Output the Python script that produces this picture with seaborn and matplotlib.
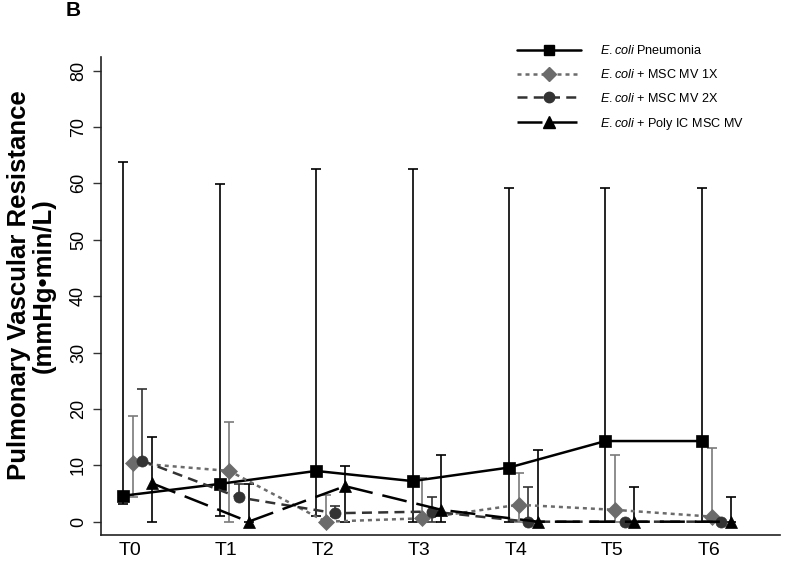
import numpy as np
import pandas as pd
import matplotlib
matplotlib.use("Agg")
import matplotlib.pyplot as plt
import seaborn as sns
from matplotlib.lines import Line2D

# ---- data ----
timepoints = ["T0", "T1", "T2", "T3", "T4", "T5", "T6"]
series_names = [
    r"$\mathit{E.coli}$ Pneumonia",
    r"$\mathit{E.coli}$ + MSC MV 1X",
    r"$\mathit{E.coli}$ + MSC MV 2X",
    r"$\mathit{E.coli}$ + Poly IC MSC MV",
]
pneumonia = [4.6, 6.7, 9.0, 7.2, 9.6, 14.3, 14.3]
pneumonia_hi = [63.7, 59.8, 62.5, 62.5, 59.2, 59.2, 59.2]
pneumonia_lo = [3.1, 1.0, 1.0, 0.0, 0.0, 0.0, 0.0]

mv1x = [10.4, 9.0, 0.0, 0.6, 3.0, 2.1, 0.9]
mv1x_hi = [18.7, 17.6, 4.7, 7.8, 8.6, 11.8, 13.0]
mv1x_lo = [4.3, 0.0, 0.0, 0.0, 0.0, 0.0, 0.0]

mv2x = [10.8, 4.3, 1.5, 1.8, 0.0, 0.0, 0.0]
mv2x_hi = [23.5, 6.6, 2.7, 4.3, 6.2, 0.0, 0.0]
mv2x_lo = [10.8, 4.3, 1.0, 0.0, 0.0, 0.0, 0.0]

polyic = [6.8, 0.0, 6.3, 2.1, 0.0, 0.0, 0.0]
polyic_hi = [15.1, 6.7, 9.9, 11.8, 12.7, 6.2, 4.3]
polyic_lo = [0.0, 0.0, 0.0, 0.0, 0.0, 0.0, 0.0]

values = [pneumonia, mv1x, mv2x, polyic]
highs = [pneumonia_hi, mv1x_hi, mv2x_hi, polyic_hi]
lows = [pneumonia_lo, mv1x_lo, mv2x_lo, polyic_lo]

# ---- styles ----
offsets = [-0.07, 0.03, 0.13, 0.23]
colors = ["#000000", "#6b6b6b", "#333333", "#000000"]
ecolors = ["#000000", "#7a7a7a", "#333333", "#000000"]
markers = ["s", "D", "o", "^"]
msizes = [8, 8, 8, 8.5]
linestyles = ["-", (0, (1.6, 1.6)), (0, (4, 2.5)), (0, (10, 4))]

sns.set_style("ticks")
plt.rcParams["font.family"] = ["Liberation Sans", "DejaVu Sans"]
plt.rcParams["mathtext.fontset"] = "custom"
plt.rcParams["mathtext.it"] = "Liberation Sans:italic"
plt.rcParams["mathtext.rm"] = "Liberation Sans"
plt.rcParams["text.color"] = "black"
plt.rcParams["axes.labelcolor"] = "black"
plt.rcParams["xtick.color"] = "black"
plt.rcParams["ytick.color"] = "black"

fig = plt.figure(figsize=(8.0, 5.61), dpi=100)
ax = fig.add_axes([101 / 800, 1 - 535 / 561, (780 - 101) / 800, (535 - 57) / 561])

xbase = np.arange(len(timepoints))
rows = []
for name, vals, off in zip(series_names, values, offsets):
    for xi, v in zip(xbase, vals):
        rows.append({"series": name, "x": xi + off, "y": v})
df = pd.DataFrame(rows)

for i, name in enumerate(series_names):
    sub = df[df["series"] == name]
    vals = np.array(values[i])
    hi = np.array(highs[i])
    lo = np.array(lows[i])
    ax.errorbar(sub["x"].values, vals, yerr=[vals - lo, hi - vals], fmt="none",
                ecolor=ecolors[i], elinewidth=1.2, capsize=3.5, capthick=1.2, zorder=2)
    sns.lineplot(data=sub, x="x", y="y", ax=ax, color=colors[i], marker=markers[i],
                 markersize=msizes[i], markeredgecolor=colors[i], markeredgewidth=0.5,
                 linestyle=linestyles[i], linewidth=1.8, legend=False, zorder=3 + i)

ax.set_xlim(-0.30, 6.74)
ax.set_ylim(-2.36, 82.4)
ax.set_xticks(xbase)
ax.set_xticklabels(timepoints, fontsize=14)
ax.set_yticks(np.arange(0, 81, 10))
ax.set_yticklabels([str(v) for v in range(0, 81, 10)], fontsize=13, rotation=90, va="center")
ax.tick_params(axis="x", length=0, pad=5)
ax.tick_params(axis="y", length=6, width=1.0, pad=4, color="#333333")
ax.set_xlabel("")
ax.set_ylabel("Pulmonary Vascular Resistance\n(mmHg\u2022min/L)", fontsize=18.5,
              fontweight="bold", linespacing=1.05)
ax.yaxis.set_label_coords(-0.066, 0.522)
for s in ["top", "right"]:
    ax.spines[s].set_visible(False)
for s in ["left", "bottom"]:
    ax.spines[s].set_color("#222222")
    ax.spines[s].set_linewidth(1.2)

handles = [Line2D([0], [0], color=colors[i], marker=markers[i], markersize=msizes[i] - 0.5,
                  markeredgecolor=colors[i], linestyle=linestyles[i], linewidth=1.8)
           for i in range(4)]
fig.legend(handles, series_names, loc="upper left", bbox_to_anchor=(511 / 800, 1 - 38 / 561),
           frameon=False, fontsize=9.1, handlelength=5.0, handletextpad=1.55,
           labelspacing=0.85, borderpad=0)

fig.text(66 / 800, 1 - 1 / 561, "B", fontsize=15, fontweight="bold", va="top", ha="left")

fig.savefig("out.png", dpi=100)
